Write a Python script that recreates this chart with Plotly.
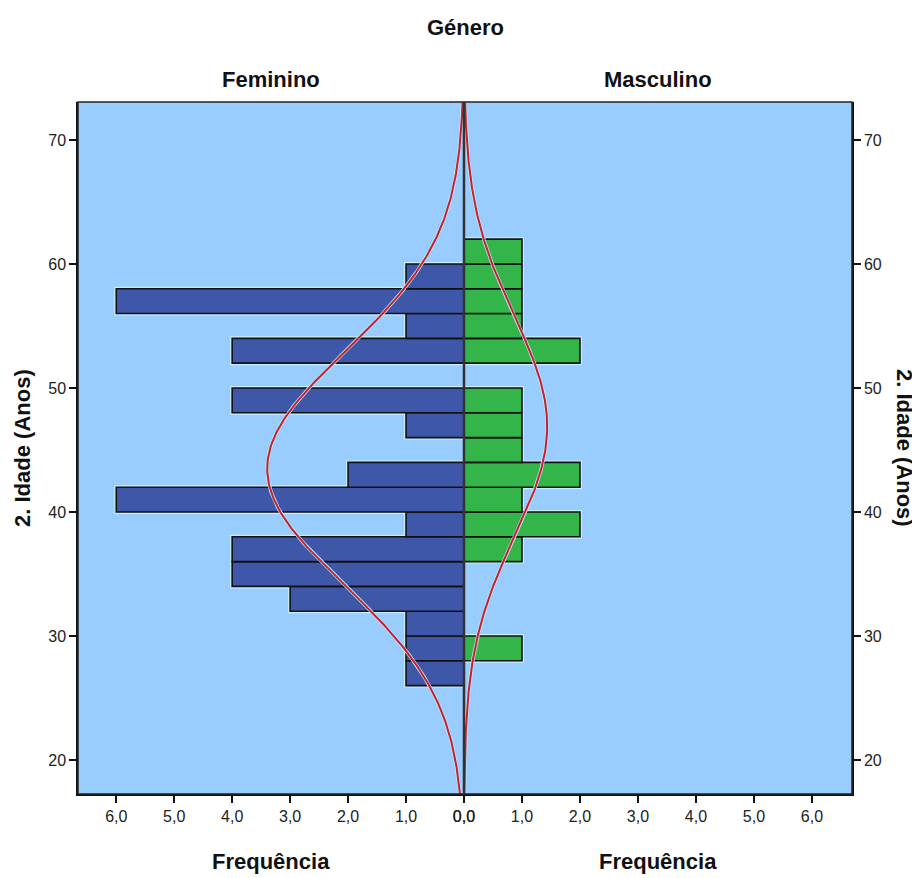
import numpy as np
import plotly.graph_objects as go
from plotly.subplots import make_subplots

# ---- data ----
age_bins = [27, 29, 31, 33, 35, 37, 39, 41, 43, 45, 47, 49, 51, 53, 55, 57, 59, 61]
feminino = [1, 1, 1, 3, 4, 4, 1, 6, 2, 0, 1, 4, 0, 4, 1, 6, 1, 0]
masculino = [0, 1, 0, 0, 0, 1, 2, 1, 2, 1, 1, 1, 0, 2, 1, 1, 1, 1]
bin_width = 2
fem_mean, fem_sd = 43.5, 9.4
mas_mean, mas_sd = 46.9, 8.9
x_ticks = [0, 1, 2, 3, 4, 5, 6]
x_tick_labels = ["0,0", "1,0", "2,0", "3,0", "4,0", "5,0", "6,0"]
y_ticks = [20, 30, 40, 50, 60, 70]

Y_RANGE = [17.26, 73.06]
FONT = "Liberation Sans, Arial, sans-serif"
BG = "#99CCFF"
HALO = "#C6EEFF"

fig = make_subplots(rows=1, cols=2, horizontal_spacing=0.0)


def add_side(counts, mean, sd, color, col):
    ys = [a for a, c in zip(age_bins, counts) if c > 0]
    xs = [c for c in counts if c > 0]
    # light halo under bars
    fig.add_trace(go.Bar(y=ys, x=xs, orientation="h", width=bin_width,
                         marker=dict(color=HALO, line=dict(color=HALO, width=4)),
                         hoverinfo="skip", showlegend=False), row=1, col=col)
    fig.add_trace(go.Bar(y=ys, x=xs, orientation="h", width=bin_width,
                         marker=dict(color=color, line=dict(color="#111111", width=1.6)),
                         showlegend=False), row=1, col=col)
    n = sum(counts)
    yy = np.linspace(Y_RANGE[0], Y_RANGE[1], 300)
    xx = n * bin_width * np.exp(-0.5 * ((yy - mean) / sd) ** 2) / (sd * np.sqrt(2 * np.pi))
    fig.add_trace(go.Scatter(x=xx, y=yy, mode="lines", line=dict(color="#BFE8FF", width=3.5),
                             hoverinfo="skip", showlegend=False), row=1, col=col)
    fig.add_trace(go.Scatter(x=xx, y=yy, mode="lines", line=dict(color="#C8202A", width=2),
                             showlegend=False), row=1, col=col)


add_side(feminino, fem_mean, fem_sd, "#3F57A8", 1)
add_side(masculino, mas_mean, mas_sd, "#33B54A", 2)

split = 0.4987
common_x = dict(tickvals=x_ticks, ticktext=x_tick_labels, ticks="outside", ticklen=7,
                tickwidth=1.5, tickcolor="#111", showline=True, linecolor="#111", linewidth=1.5,
                showgrid=False, zeroline=False,
                tickfont=dict(family=FONT, size=16, color="#222"))
common_y = dict(range=Y_RANGE, tickvals=y_ticks, ticks="outside", ticklen=7, tickwidth=1.5,
                tickcolor="#111", showline=True, linecolor="#111", linewidth=1.5,
                showgrid=False, zeroline=False,
                tickfont=dict(family=FONT, size=16, color="#222"))

fig.update_layout(
    xaxis=dict(domain=[0, split], range=[6.66, 0], **common_x),
    xaxis2=dict(domain=[split, 1], range=[0, 6.69], **common_x),
    yaxis=dict(**common_y),
    yaxis2=dict(side="right", matches="y", **common_y),
    barmode="overlay",
    plot_bgcolor=BG,
    paper_bgcolor="white",
    width=912, height=870,
    margin=dict(l=70, r=68, t=94, b=84),
    showlegend=False,
)

# frame and center line
fig.add_shape(type="rect", xref="paper", yref="paper", x0=0, x1=1, y0=0, y1=1,
              line=dict(color="#222", width=1.5), layer="above")
fig.add_shape(type="line", xref="paper", yref="paper", x0=split, x1=split, y0=0, y1=1,
              line=dict(color="#333", width=2.5), layer="above")

bold = dict(family=FONT, size=22, color="#111")
ann = [
    dict(text="<b>Género</b>", x=0.5, y=1.108),
    dict(text="<b>Feminino</b>", x=split / 2, y=1.032),
    dict(text="<b>Masculino</b>", x=(1 + split) / 2, y=1.032),
    dict(text="<b>Frequência</b>", x=split / 2, y=-0.098),
    dict(text="<b>Frequência</b>", x=(1 + split) / 2, y=-0.098),
    dict(text="<b>2. Idade (Anos)</b>", x=-0.0724, y=0.5, textangle=-90),
    dict(text="<b>2. Idade (Anos)</b>", x=1.0685, y=0.5, textangle=90),
]
for a in ann:
    fig.add_annotation(xref="paper", yref="paper", showarrow=False,
                       xanchor="center", yanchor="middle", font=bold, **a)

fig.write_html("out.html")
